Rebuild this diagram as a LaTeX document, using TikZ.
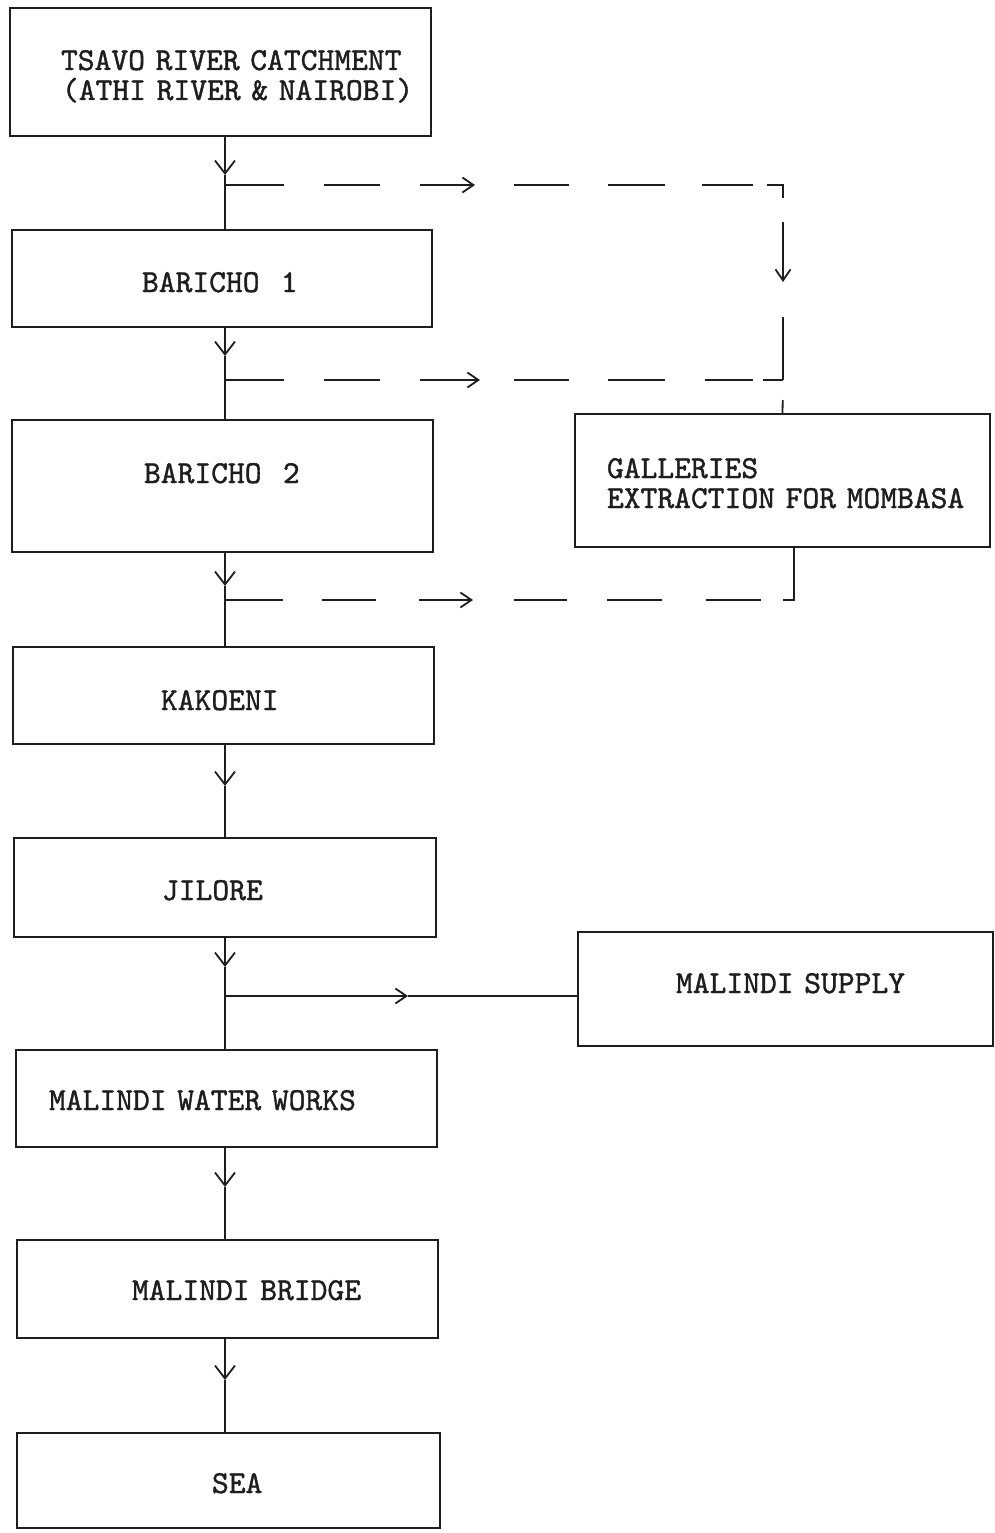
\documentclass[tikz,border=0pt]{standalone}
\usepackage{fontspec}
\newfontfamily\typewriter{lmmono10-regular.otf}[FakeBold=1.2]
\usetikzlibrary{arrows.meta}
\definecolor{ink}{HTML}{1E1E1E}
\begin{document}
\begin{tikzpicture}[x=1pt,y=-1pt,
  ln/.style={line width=1.8pt, draw=ink},
  box/.style={ln, rectangle, inner sep=0pt, outer sep=0pt, align=left, text=ink,
    font=\typewriter\fontsize{32}{30}\selectfont},
  sb/.style={-{Straight Barb[length=13pt,width=20pt]}},
  hb/.style={-{Straight Barb[length=11pt,width=15pt]}}]
\useasboundingbox (0,0) rectangle (995,1533);
\fill[white] (0,0) rectangle (995,1533);

% boxes
\node[box, minimum width=421pt, minimum height=128pt, text width=421pt, text height=0pt, text depth=4pt]
  (tsavo) at (220.5,72) {\hspace*{51pt}TSAVO RIVER CATCHMENT\\\hspace*{52pt}(ATHI RIVER \& NAIROBI)};
\node[box, minimum width=420pt, minimum height=97pt, text width=420pt, text height=27pt, text depth=0pt]
  (b1) at (222,278.5) {\hspace*{130pt}BARICHO\ \ 1};
\node[box, minimum width=421pt, minimum height=132pt, text width=421pt, text height=0pt, text depth=6pt]
  (b2) at (222.5,486) {\hspace*{132pt}BARICHO\ \ 2};
\node[box, minimum width=421pt, minimum height=97pt, text width=421pt, text height=29pt, text depth=0pt]
  (kak) at (223.5,695.5) {\hspace*{148pt}KAKOENI};
\node[box, minimum width=422pt, minimum height=99pt, text width=422pt, text height=25pt, text depth=0pt]
  (jil) at (225,887.5) {\hspace*{148pt}JILORE};
\node[box, minimum width=421pt, minimum height=97pt, text width=421pt, text height=23pt, text depth=0pt]
  (mww) at (226.5,1098.5) {\hspace*{33pt}MALINDI WATER WORKS};
\node[box, minimum width=421pt, minimum height=98pt, text width=421pt, text height=22pt, text depth=0pt]
  (mbr) at (227.5,1289) {\hspace*{115pt}MALINDI BRIDGE};
\node[box, minimum width=423pt, minimum height=95pt, text width=423pt, text height=25pt, text depth=0pt]
  (sea) at (228.5,1480.5) {\hspace*{195pt}SEA};
\node[box, minimum width=415pt, minimum height=133pt, text width=415pt, text height=0pt, text depth=5pt]
  (gal) at (782.5,480.5) {\hspace*{32pt}GALLERIES\\\hspace*{32pt}EXTRACTION FOR MOMBASA};
\node[box, minimum width=415pt, minimum height=114pt, text width=415pt, text height=8pt, text depth=0pt]
  (msup) at (785.5,989) {\hspace*{98pt}MALINDI SUPPLY};

% main stem coordinates
\coordinate (spine) at (225,0);
\coordinate (v1) at (225,175);
\coordinate (v2) at (225,356);
\coordinate (v3) at (225,586);
\coordinate (v4) at (225,786);
\coordinate (v5) at (225,967);
\coordinate (v6) at (225,1187);
\coordinate (v7) at (225,1380);
\coordinate (br1) at (225,185);
\coordinate (br2) at (225,380);
\coordinate (br3) at (225,600);
\coordinate (br5) at (225,996);

% main stem
\draw[ln,sb] (tsavo.south -| spine) -- (v1);
\draw[ln] (v1) -- (b1.north -| spine);
\draw[ln,sb] (b1.south -| spine) -- (v2);
\draw[ln] (v2) -- (b2.north -| spine);
\draw[ln,sb] (b2.south -| spine) -- (v3);
\draw[ln] (v3) -- (kak.north -| spine);
\draw[ln,sb] (kak.south -| spine) -- (v4);
\draw[ln] (v4) -- (jil.north -| spine);
\draw[ln,sb] (jil.south -| spine) -- (v5);
\draw[ln] (v5) -- (mww.north -| spine);
\draw[ln,sb] (mww.south -| spine) -- (v6);
\draw[ln] (v6) -- (mbr.north -| spine);
\draw[ln,sb] (mbr.south -| spine) -- (v7);
\draw[ln] (v7) -- (sea.north -| spine);

% dashed flows to galleries
\coordinate (tip1) at (475,185);
\coordinate (cA) at (783,185);
\coordinate (tipV) at (783,282);
\coordinate (cB) at (783,380);
\coordinate (tip2) at (480,380);
\coordinate (tip3) at (473,600);
\coordinate (cC) at (794,600);

\draw[ln,hb,dash pattern=on 59pt off 40pt on 56pt off 40pt on 55pt off 100pt] (br1) -- (tip1);
\draw[ln,hb,dash pattern=on 0pt off 39pt on 55pt off 39pt on 57pt off 37pt on 51pt off 14pt on 29pt off 24pt on 60pt off 100pt]
  (tip1) -- (cA) -- (tipV);
\draw[ln,dash pattern=on 0pt off 35pt on 70pt off 100pt] (tipV) -- (cB);
\draw[ln,hb,dash pattern=on 59pt off 40pt on 56pt off 40pt on 60pt off 100pt] (br2) -- (tip2);
\draw[ln,dash pattern=on 0pt off 34pt on 55pt off 39pt on 57pt off 40pt on 48pt off 10pt on 30pt off 100pt]
  (tip2) -- (cB);
\draw[ln,dash pattern=on 0pt off 20pt on 40pt off 100pt] (cB) -- (gal.north);

\draw[ln,hb,dash pattern=on 58pt off 39pt on 54pt off 43pt on 54pt off 100pt] (br3) -- (tip3);
\draw[ln,dash pattern=on 0pt off 41pt on 53pt off 40pt on 55pt off 44pt on 55pt off 22pt on 200pt off 100pt]
  (tip3) -- (cC) -- (cC |- gal.south);

% Malindi supply
\coordinate (tip5) at (408,996);
\draw[ln,hb] (br5) -- (tip5);
\draw[ln] (tip5) -- (br5 -| msup.west);
\end{tikzpicture}
\end{document}
